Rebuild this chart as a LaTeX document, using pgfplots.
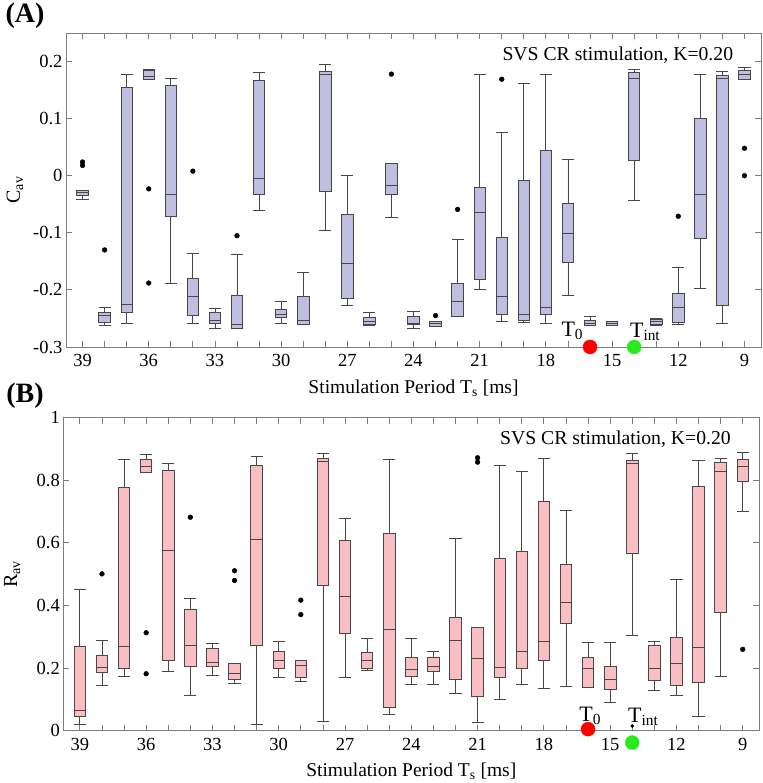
\documentclass[border=0pt]{standalone}
\usepackage{fontspec}
\setmainfont{Liberation Serif}
\usepackage{pgfplots}
\pgfplotsset{compat=1.18}
\usepgfplotslibrary{statistics}

\definecolor{lavbox}{RGB}{191,189,224}
\definecolor{pinkbox}{RGB}{248,190,194}
\definecolor{framegray}{RGB}{125,125,125}
\definecolor{dotgreen}{RGB}{40,235,30}

\pgfplotsset{
  panel/.style={
    scale only axis, width=695pt, height=314pt, anchor=south west,
    xmin=8.25, xmax=39.75, x dir=reverse,
    xtick={9,12,...,39}, minor xtick={9,10,...,39},
    major tick length=6pt, minor tick length=6pt,
    axis line style={draw=framegray, line width=0.9pt},
    every tick/.append style={draw=framegray, line width=0.8pt},
    every minor tick/.append style={draw=framegray, line width=0.8pt},
    tick label style={font=\fontsize{18.5}{20}\selectfont},
    xticklabel style={yshift=-4pt},
    /pgf/number format/assume math mode=true,
    clip=false,
    xlabel={Stimulation Period T\textsubscript{s} [ms]},
    xlabel style={font=\fontsize{19.5}{22}\selectfont, at={(axis description cs:0.5,-0.131)}, anchor=center},
    ylabel style={font=\fontsize{20}{22}\selectfont, at={(axis description cs:-0.0734,0.5)}, anchor=center},
    boxplot/draw direction=y,
    boxplot/box extend=0.52, boxplot/whisker extend=0.55,
  },
  bxstyle/.style={solid, draw=black!72, line width=0.8pt},
}

% position, lower whisker, lower quartile, median, upper quartile, upper whisker
\newcommand{\bx}[7]{\addplot[bxstyle, fill=#1, boxplot prepared={draw direction=y, draw position=#2,
  lower whisker=#3, lower quartile=#4, median=#5, upper quartile=#6, upper whisker=#7}] coordinates {};}

\begin{document}
\begin{tikzpicture}

% ---------------- (A) ----------------
\begin{axis}[panel, at={(66pt,436pt)},
  ymin=-0.3, ymax=0.25,
  ytick={-0.3,-0.2,-0.1,0,0.1,0.2},
  ylabel={C\textsubscript{av}},
]
\bx{lavbox}{39}{-0.041}{-0.034}{-0.030}{-0.026}{-0.026}
\bx{lavbox}{38}{-0.263}{-0.257}{-0.245}{-0.240}{-0.230}
\bx{lavbox}{37}{-0.258}{-0.240}{-0.226}{0.154}{0.177}
\bx{lavbox}{36}{0.168}{0.168}{0.174}{0.185}{0.186}
\bx{lavbox}{35}{-0.189}{-0.072}{-0.033}{0.158}{0.170}
\bx{lavbox}{34}{-0.258}{-0.244}{-0.212}{-0.179}{-0.136}
\bx{lavbox}{33}{-0.268}{-0.259}{-0.254}{-0.240}{-0.232}
\bx{lavbox}{32}{-0.267}{-0.267}{-0.261}{-0.209}{-0.137}
\bx{lavbox}{31}{-0.061}{-0.033}{-0.005}{0.167}{0.181}
\bx{lavbox}{30}{-0.258}{-0.249}{-0.243}{-0.235}{-0.220}
\bx{lavbox}{29}{-0.260}{-0.260}{-0.253}{-0.211}{-0.169}
\bx{lavbox}{28}{-0.095}{-0.028}{0.178}{0.182}{0.195}
\bx{lavbox}{27}{-0.227}{-0.215}{-0.154}{-0.067}{0.000}
\bx{lavbox}{26}{-0.263}{-0.261}{-0.255}{-0.249}{-0.240}
\bx{lavbox}{25}{-0.073}{-0.033}{-0.017}{0.021}{0.021}
\bx{lavbox}{24}{-0.268}{-0.261}{-0.258}{-0.247}{-0.237}
\bx{lavbox}{23}{-0.264}{-0.264}{-0.258}{-0.256}{-0.256}
\bx{lavbox}{22}{-0.247}{-0.246}{-0.221}{-0.188}{-0.112}
\bx{lavbox}{21}{-0.200}{-0.182}{-0.065}{-0.021}{0.178}
\bx{lavbox}{20}{-0.256}{-0.243}{-0.212}{-0.108}{0.075}
\bx{lavbox}{19}{-0.257}{-0.254}{-0.243}{-0.009}{0.161}
\bx{lavbox}{18}{-0.259}{-0.243}{-0.230}{0.045}{0.178}
\bx{lavbox}{17}{-0.210}{-0.151}{-0.101}{-0.049}{0.029}
\bx{lavbox}{16}{-0.262}{-0.262}{-0.258}{-0.253}{-0.247}
\bx{lavbox}{15}{-0.263}{-0.263}{-0.258}{-0.255}{-0.255}
\bx{lavbox}{14}{-0.044}{0.027}{0.171}{0.181}{0.186}
\bx{lavbox}{13}{-0.263}{-0.261}{-0.256}{-0.252}{-0.250}
\bx{lavbox}{12}{-0.261}{-0.257}{-0.230}{-0.207}{-0.160}
\bx{lavbox}{11}{-0.198}{-0.110}{-0.033}{0.100}{0.178}
\bx{lavbox}{10}{-0.259}{-0.228}{0.170}{0.175}{0.183}
\bx{lavbox}{9}{0.169}{0.169}{0.178}{0.185}{0.189}

% outliers
\addplot[only marks, mark=*, mark size=2.4pt, black] coordinates {
  (39,0.024) (39,0.018) (38,-0.130) (36,-0.023) (36,-0.188) (34,0.008)
  (32,-0.105) (25,0.178) (23,-0.245) (22,-0.059) (20,0.169) (12,-0.071)
  (9,0.048) (9,0.000)
};

% T0 and Tint markers
\addplot[only marks, mark=*, mark size=7pt, red] coordinates {(16,-0.3)};
\addplot[only marks, mark=*, mark size=7pt, dotgreen] coordinates {(14,-0.3)};
\node[font=\fontsize{22}{24}\selectfont] at (axis cs:16.8,-0.271) {T\textsubscript{0}};
\node[font=\fontsize{22}{24}\selectfont] at (axis cs:13.5,-0.273) {T\textsubscript{int}};

\node[font=\fontsize{19.7}{22}\selectfont] at (axis cs:14.74,0.212) {SVS CR stimulation, K=0.20};
\end{axis}

% ---------------- (B) ----------------
\begin{axis}[panel, at={(63.3pt,52.3pt)}, width=696pt, height=313pt,
  ymin=0, ymax=1,
  ytick={0,0.2,0.4,0.6,0.8,1},
  ylabel={R\textsubscript{av}},
]
\bx{pinkbox}{39}{0.019}{0.045}{0.065}{0.270}{0.453}
\bx{pinkbox}{38}{0.145}{0.187}{0.201}{0.240}{0.287}
\bx{pinkbox}{37}{0.174}{0.200}{0.268}{0.777}{0.866}
\bx{pinkbox}{36}{0.825}{0.825}{0.845}{0.866}{0.884}
\bx{pinkbox}{35}{0.190}{0.225}{0.576}{0.832}{0.854}
\bx{pinkbox}{34}{0.113}{0.206}{0.273}{0.388}{0.423}
\bx{pinkbox}{33}{0.177}{0.206}{0.219}{0.264}{0.280}
\bx{pinkbox}{32}{0.150}{0.165}{0.183}{0.216}{0.216}
\bx{pinkbox}{31}{0.019}{0.274}{0.611}{0.847}{0.875}
\bx{pinkbox}{30}{0.169}{0.199}{0.225}{0.254}{0.284}
\bx{pinkbox}{29}{0.158}{0.169}{0.209}{0.225}{0.225}
\bx{pinkbox}{28}{0.029}{0.463}{0.861}{0.869}{0.886}
\bx{pinkbox}{27}{0.171}{0.311}{0.428}{0.607}{0.677}
\bx{pinkbox}{26}{0.194}{0.199}{0.225}{0.250}{0.296}
\bx{pinkbox}{25}{0.051}{0.076}{0.325}{0.630}{0.866}
\bx{pinkbox}{24}{0.149}{0.174}{0.196}{0.235}{0.295}
\bx{pinkbox}{23}{0.149}{0.190}{0.204}{0.235}{0.254}
\bx{pinkbox}{22}{0.119}{0.163}{0.287}{0.363}{0.615}
\bx{pinkbox}{21}{0.026}{0.110}{0.231}{0.330}{0.330}
\bx{pinkbox}{20}{0.100}{0.169}{0.203}{0.550}{0.848}
\bx{pinkbox}{19}{0.149}{0.200}{0.252}{0.574}{0.828}
\bx{pinkbox}{18}{0.136}{0.225}{0.284}{0.731}{0.870}
\bx{pinkbox}{17}{0.142}{0.342}{0.411}{0.531}{0.705}
\bx{pinkbox}{16}{0.137}{0.137}{0.200}{0.235}{0.282}
\bx{pinkbox}{15}{0.091}{0.132}{0.163}{0.205}{0.282}
\bx{pinkbox}{14}{0.304}{0.568}{0.853}{0.863}{0.886}
\bx{pinkbox}{13}{0.129}{0.161}{0.200}{0.274}{0.286}
\bx{pinkbox}{12}{0.112}{0.144}{0.216}{0.298}{0.482}
\bx{pinkbox}{11}{0.046}{0.155}{0.267}{0.782}{0.863}
\bx{pinkbox}{10}{0.174}{0.378}{0.827}{0.857}{0.870}
\bx{pinkbox}{9}{0.702}{0.795}{0.844}{0.866}{0.889}

% outliers
\addplot[only marks, mark=*, mark size=2.4pt, black] coordinates {
  (38,0.501) (36,0.313) (36,0.182) (34,0.682) (32,0.511) (32,0.480)
  (29,0.417) (29,0.371) (21,0.872) (21,0.858) (9,0.260)
};
\addplot[only marks, mark=*, mark size=1.6pt, black] coordinates {(14,0.015)};

% T0 and Tint markers
\addplot[only marks, mark=*, mark size=7pt, red] coordinates {(16,0.005)};
\addplot[only marks, mark=*, mark size=7pt, dotgreen] coordinates {(14,-0.038)};
\node[font=\fontsize{22}{24}\selectfont] at (axis cs:15.9,0.047) {T\textsubscript{0}};
\node[font=\fontsize{22}{24}\selectfont] at (axis cs:13.5,0.044) {T\textsubscript{int}};

\node[font=\fontsize{19.7}{22}\selectfont] at (axis cs:14.76,0.932) {SVS CR stimulation, K=0.20};
\end{axis}

% panel letters
\node[font=\fontsize{28}{30}\selectfont\bfseries] at (25pt,767pt) {(A)};
\node[font=\fontsize{28}{30}\selectfont\bfseries] at (25pt,387pt) {(B)};

\pgfresetboundingbox
\useasboundingbox (0,0) rectangle (762pt,783pt);
\end{tikzpicture}
\end{document}
